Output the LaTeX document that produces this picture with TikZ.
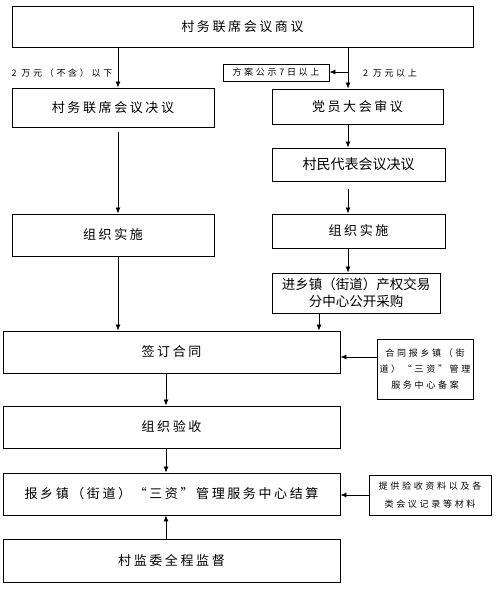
\documentclass[tikz,border=0pt]{standalone}
\usepackage{fontspec}
\setmainfont{Noto Sans CJK SC}
\newfontfamily\cjkwide[LetterSpace=20]{Noto Sans CJK SC}
\newfontfamily\cjksmall[LetterSpace=30]{Noto Sans CJK SC}
\usetikzlibrary{arrows.meta}

\begin{document}
\begin{tikzpicture}[x=1pt,y=-1pt,
    box/.style={draw, line width=0.9pt, inner sep=0pt, align=center, font=\cjkwide\fontsize{13}{17}\selectfont},
    smallbox/.style={box, font=\cjksmall\fontsize{9}{16}\selectfont},
    note/.style={inner sep=0pt, font=\cjksmall\fontsize{9}{11}\selectfont},
    arr/.style={-{Latex[length=6pt,width=5pt]}, line width=0.8pt}]
  \useasboundingbox (0,0) rectangle (499,589); % page size

  % boxes
  \node[box, minimum width=461pt, minimum height=41pt] (shangyi) at (242.5,26.5) {村务联席会议商议};
  \node[box, minimum width=202pt, minimum height=39pt] (jueyi) at (113,107.5) {村务联席会议决议};
  \node[box, minimum width=202pt, minimum height=42pt] (zuzhi1) at (113,235) {组织实施};
  \node[smallbox, minimum width=106pt, minimum height=17pt] (gongshi) at (276,72.5) {方案公示7日以上};
  \node[box, minimum width=171pt, minimum height=35pt] (dangyuan) at (357.5,106.5) {党员大会审议};
  \node[box, minimum width=173pt, minimum height=33pt, font=\fontsize{14}{17}\selectfont] (cunmin) at (358.5,164.5) {村民代表会议决议};
  \node[box, minimum width=173pt, minimum height=34pt] (zuzhi2) at (358.5,231) {组织实施};
  \node[box, minimum width=168pt, minimum height=40pt, font=\fontsize{13.5}{17}\selectfont] (jinxiang) at (356,293) {进乡镇（街道）产权交易\\分中心公开采购};
  \node[box, minimum width=337pt, minimum height=42pt] (qianding) at (171.5,352) {签订合同};
  \node[smallbox, minimum width=96pt, minimum height=60pt] (beian) at (425,369) {合同报乡镇（街\\道）“三资”管理\\服务中心备案};
  \node[box, minimum width=337pt, minimum height=42pt] (yanshou) at (171.5,427) {组织验收};
  \node[box, minimum width=337pt, minimum height=42pt] (jiesuan) at (171.5,494) {报乡镇（街道）“三资”管理服务中心结算};
  \node[smallbox, minimum width=122pt, minimum height=40pt, font=\cjksmall\fontsize{9}{18}\selectfont] (cailiao) at (430,495) {提供验收资料以及各\\类会议记录等材料};
  \node[box, minimum width=337pt, minimum height=43pt] (jiandu) at (171.5,560.5) {村监委全程监督};

  % labels
  \node[note] (xiaxian) at (62,73) {2 万元（不含）以下};
  \node[note] (yishang) at (390,73) {2 万元以上};

  % where the arrows run
  \coordinate (lx) at (118,0);
  \coordinate (rx) at (348,0);
  \coordinate (jx) at (319,0);
  \coordinate (mx) at (166,0);
  \coordinate (gy) at (0,72);
  \coordinate (by) at (0,357);

  % arrows
  \draw[arr] (shangyi.south -| lx) -- (jueyi.north -| lx);
  \draw[arr, shorten <=5pt] (jueyi.south -| lx) -- (zuzhi1.north -| lx);
  \draw[arr] (zuzhi1.south -| lx) -- (qianding.north -| lx);

  \draw[arr] (shangyi.south -| rx) -- (dangyuan.north -| rx);
  \draw[arr] (gy -| rx) -- (gongshi.east |- gy);
  \draw[arr] (dangyuan.south -| rx) -- (cunmin.north -| rx);
  \draw[arr, shorten <=8pt] (cunmin.south -| rx) -- (zuzhi2.north -| rx);
  \draw[arr] (zuzhi2.south -| rx) -- (jinxiang.north -| rx);
  \draw[arr] (jinxiang.south -| jx) -- (qianding.north -| jx);

  \draw[arr] (beian.west |- by) -- (qianding.east |- by);
  \draw[arr] (qianding.south -| mx) -- (yanshou.north -| mx);
  \draw[arr] (yanshou.south -| mx) -- (jiesuan.north -| mx);
  \draw[arr] (cailiao.west) -- (cailiao.west -| jiesuan.east);
  \draw[arr] (jiandu.north -| mx) -- (jiesuan.south -| mx);
\end{tikzpicture}
\end{document}
